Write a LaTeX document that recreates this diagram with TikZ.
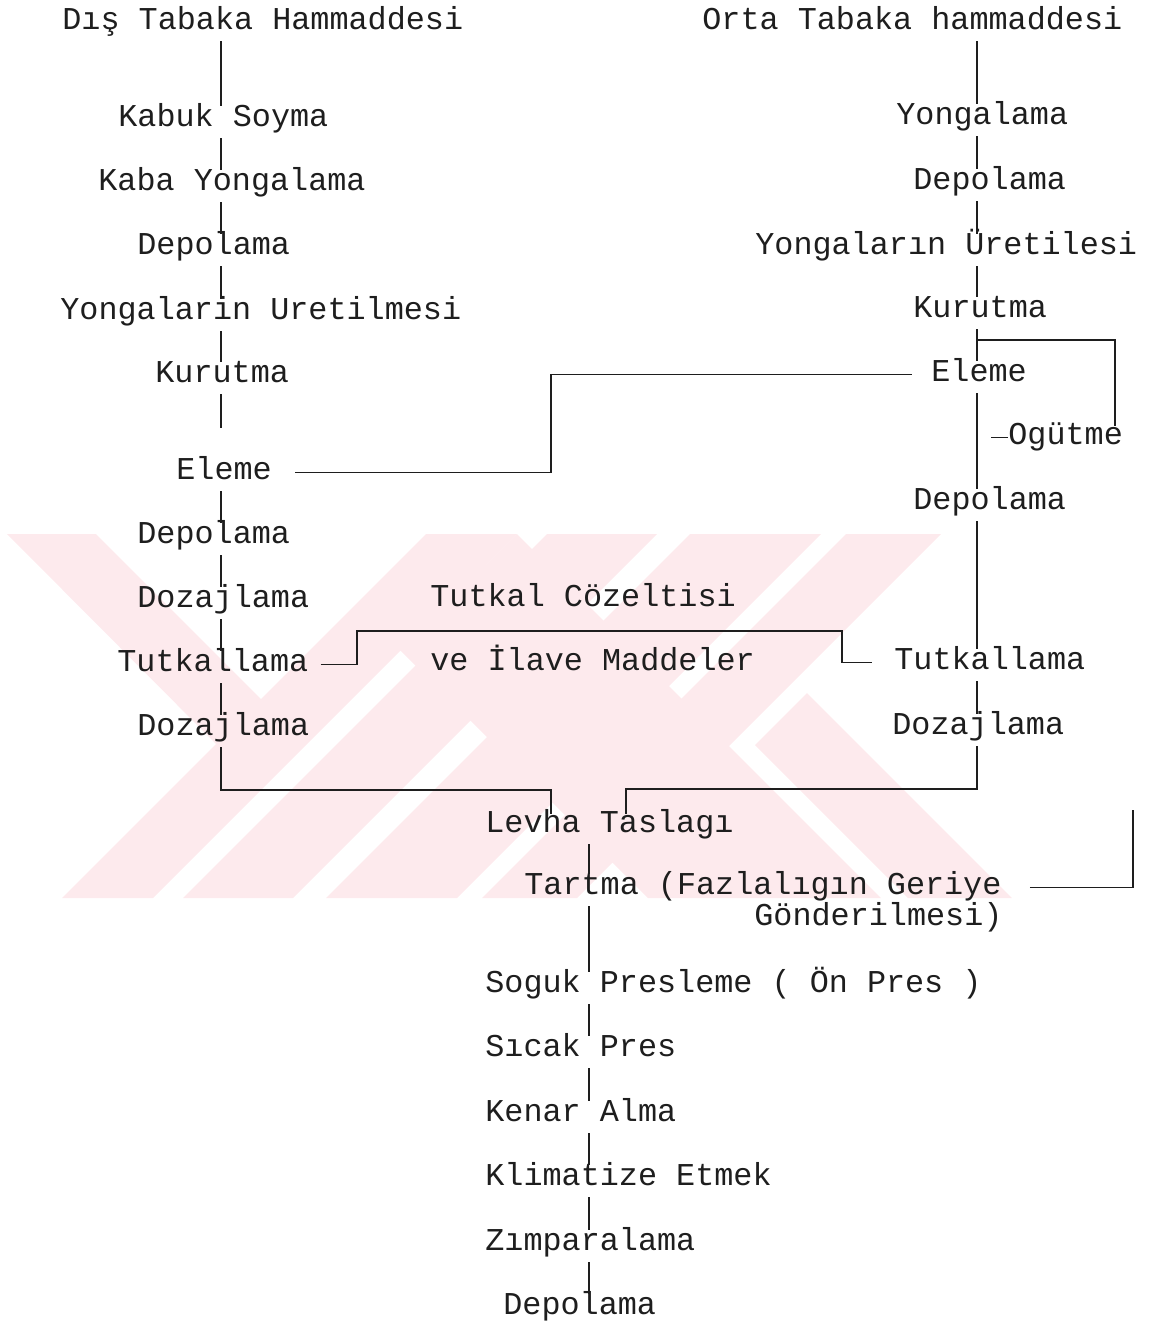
\documentclass[tikz,border=0pt]{standalone}
\usepackage{fontspec}
\newfontfamily\dotfont{Liberation Mono}
\definecolor{wmpink}{RGB}{253,234,237}
\definecolor{ink}{RGB}{30,30,30}

\begin{document}
\begin{tikzpicture}[
  x=0.5pt, y=-0.5pt,
  lbl/.style={font=\dotfont\fontsize{15.9pt}{18pt}\selectfont, text=ink,
    inner sep=0pt, text height=9pt, text depth=2.5pt, anchor=base west},
  link/.style={draw=ink, line width=0.8pt},
  vlink/.style={link, shorten <=3.5pt, shorten >=1pt},
]
\useasboundingbox (0,0) rectangle (1162,1323);

% watermark in the background
\begin{scope}
  \clip (7,534) rectangle (1015,898);
  \foreach \a/\b in {960/1051, 1081/1191, 1224/1355, 1380/1475}
    \fill[wmpink] (\a-534,534) -- (\b-534,534) -- (\b-898,898) -- (\a-898,898) -- cycle;
  \fill[wmpink] (7,534) -- (96,534) -- (281,719) -- (236,764) -- cycle;
  \fill[wmpink] (400,650) -- (517,534) -- (881,898) -- (648,898) -- cycle;
  \fill[wmpink] (755,745) -- (807,693) -- (1012,898) -- (908,898) -- cycle;
\end{scope}

\coordinate (lc) at (221,0);
\coordinate (rc) at (977,0);
\coordinate (bc) at (589,0);

% outer layer
\node[lbl] (dis)   at (62,29)  {Dış Tabaka Hammaddesi};
\node[lbl] (kabuk) at (118,126) {Kabuk Soyma};
\node[lbl] (kaba)  at (98,190) {Kaba Yongalama};
\node[lbl] (depL1) at (137,254) {Depolama};
\node[lbl] (yonL)  at (60,319) {Yongalarin Uretilmesi};
\node[lbl] (kurL)  at (155,382) {Kurutma};
\node[lbl] (eleL)  at (176,479) {Eleme};
\node[lbl] (depL2) at (137,543) {Depolama};
\node[lbl] (dozL1) at (137,607) {Dozajlama};
\node[lbl] (tutL)  at (117,671) {Tutkallama};
\node[lbl] (dozL2) at (137,735) {Dozajlama};

% middle layer
\node[lbl] (orta)  at (702,29)  {Orta Tabaka hammaddesi};
\node[lbl] (yonR1) at (896,124) {Yongalama};
\node[lbl] (depR1) at (913,189) {Depolama};
\node[lbl] (yonR2) at (755,254) {Yongaların Üretilesi};
\node[lbl] (kurR)  at (913,317) {Kurutma};
\node[lbl] (eleR)  at (931,381) {Eleme};
\node[lbl] (ogu)   at (1008,444) {Ogütme};
\node[lbl] (depR2) at (913,509) {Depolama};
\node[lbl] (tutR)  at (894,669) {Tutkallama};
\node[lbl] (dozR)  at (892,734) {Dozajlama};

% glue
\node[lbl] (glue1) at (430,606) {Tutkal Cözeltisi};
\node[lbl] (glue2) at (430,670) {ve İlave Maddeler};

% board
\node[lbl] (levha) at (485,832) {Levha Taslagı};
\node[lbl] (tart)  at (524,894) {Tartma (Fazlalıgın Geriye};
\node[lbl] (gond)  at (754,925) {Gönderilmesi)};
\node[lbl] (soguk) at (485,992) {Soguk Presleme ( Ön Pres )};
\node[lbl] (sicak) at (485,1056) {Sıcak Pres};
\node[lbl] (kenar) at (485,1121) {Kenar Alma};
\node[lbl] (klima) at (485,1185) {Klimatize Etmek};
\node[lbl] (zimp)  at (485,1250) {Zımparalama};
\node[lbl] (depB)  at (503,1314) {Depolama};

\foreach \u/\v in {dis/kabuk, kabuk/kaba, kaba/depL1, depL1/yonL, yonL/kurL,
    eleL/depL2, depL2/dozL1, dozL1/tutL, tutL/dozL2}
  \draw[vlink] (\u.south -| lc) -- (\v.north -| lc);
\draw[vlink, shorten >=16.5pt] (kurL.south -| lc) -- (eleL.north -| lc);

\foreach \u/\v in {orta/yonR1, yonR1/depR1, depR1/yonR2, yonR2/kurR, kurR/eleR,
    eleR/depR2, depR2/tutR, tutR/dozR}
  \draw[vlink] (\u.south -| rc) -- (\v.north -| rc);

\foreach \u/\v in {levha/tart, tart/soguk, soguk/sicak, sicak/kenar,
    kenar/klima, klima/zimp, zimp/depB}
  \draw[vlink] (\u.south -| bc) -- (\v.north -| bc);

% screening link and grinding loop
\coordinate (eJ) at (551,0);
\draw[link, shorten <=11.5pt, shorten >=9.5pt] (eleL.east) -| (eJ |- eleR.west) -- (eleR.west);
\coordinate (loopA) at (1115,340);
\draw[link] (rc |- loopA) -- (loopA) -- (loopA |- ogu.north);
\coordinate (oguEnd) at (991,0);
\draw[link] (ogu.west) -- (oguEnd |- ogu.west);

% glue feed
\coordinate (gA) at (357,631);
\coordinate (gB) at (842,631);
\draw[link, shorten <=6pt, shorten >=11pt] (tutL.east) -| (gA) -- (gB) |- (tutR.west);

% forming
\coordinate (jL) at (551,790);
\coordinate (jR) at (626,789);
\draw[link, shorten <=3.5pt] (dozL2.south -| lc) |- (jL) -- (jL |- levha.north);
\draw[link, shorten <=3.5pt] (dozR.south -| rc) |- (jR) -- (jR |- levha.north);

% return of the excess
\coordinate (ret) at (1133,810);
\draw[link, shorten <=14pt] (tart.east) -| (ret);
\end{tikzpicture}
\end{document}
